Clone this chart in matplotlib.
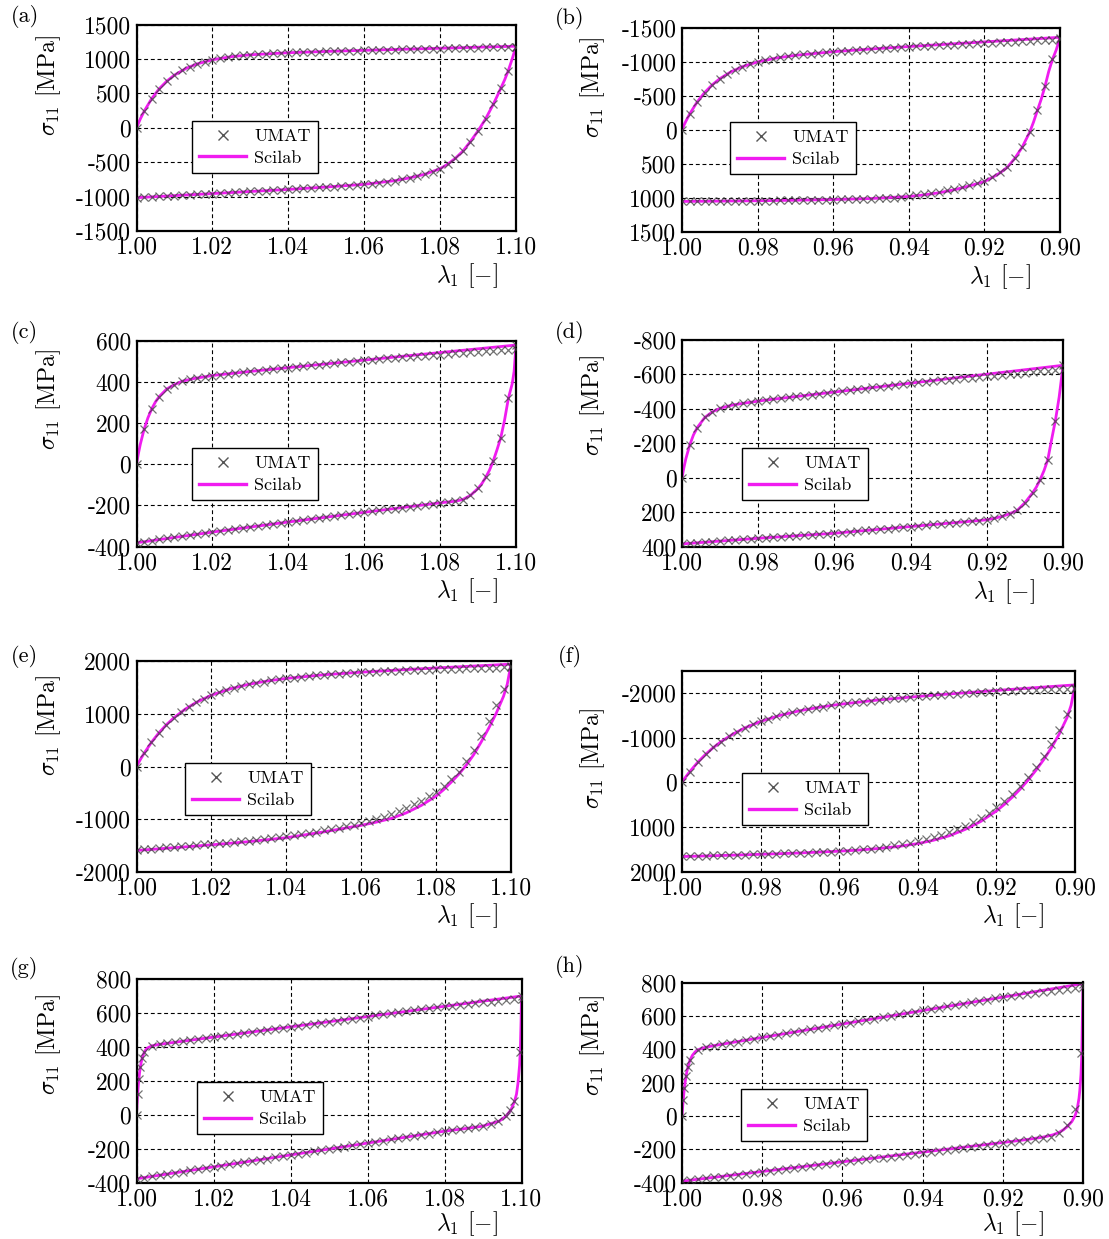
import numpy as np
import matplotlib.pyplot as plt
from matplotlib.lines import Line2D

plt.rcParams['font.family'] = ['cmr10', 'DejaVu Serif']
plt.rcParams['mathtext.fontset'] = 'cm'
plt.rcParams['axes.unicode_minus'] = False

W, H = 1109, 1239
MAG = '#f01cf0'
GREY = '#3c3c3c'

# |lambda_1 - 1| of the UMAT increments (same for every load case)
steps = np.linspace(0.0, 0.1, 51)

# ---------------- (a) tension, 1.00 -> 1.10
a_umat_up = [0, 238, 423, 567, 678, 765, 833, 887, 928, 962, 988, 1009, 1026, 1039, 1050, 1060,
             1068, 1075, 1080, 1085, 1090, 1094, 1098, 1101, 1105, 1109, 1112, 1115, 1118, 1120,
             1123, 1126, 1129, 1132, 1134, 1137, 1140, 1143, 1146, 1148, 1151, 1154, 1157, 1160,
             1162, 1165, 1168, 1171, 1174, 1176, 1179]
a_umat_dn = [-1016, -1010, -1004, -998, -992, -986, -980, -974, -968, -962, -956, -950, -944,
             -938, -932, -926, -920, -914, -908, -902, -896, -889, -882, -875, -868, -861, -854,
             -847, -839, -831, -822, -812, -800, -786, -769, -750, -728, -702, -675, -640, -595,
             -530, -445, -340, -200, -45, 130, 340, 575, 830, 1180]
a_sci_up_lam = [1.0, 1.001, 1.002, 1.004, 1.006, 1.008, 1.010, 1.013, 1.016, 1.020, 1.025, 1.030,
                1.040, 1.050, 1.060, 1.070, 1.080, 1.090, 1.100]
a_sci_up = [0, 127, 238, 423, 567, 678, 765, 861, 928, 988, 1033, 1060, 1090, 1109, 1125, 1140,
            1155, 1170, 1185]
a_sci_dn_lam = [1.100, 1.099, 1.098, 1.097, 1.096, 1.095, 1.094, 1.092, 1.090, 1.088, 1.086, 1.084,
                1.082, 1.080, 1.076, 1.072, 1.068, 1.060, 1.050, 1.040, 1.030, 1.020, 1.010, 1.000]
a_sci_dn = [1185, 1000, 835, 695, 575, 455, 340, 130, -45, -200, -340, -445, -530, -595, -675,
            -728, -769, -822, -861, -896, -926, -956, -986, -1016]

# ---------------- (b) compression, 1.00 -> 0.90
b_umat_up = [0, -225, -404, -544, -657, -747, -819, -877, -924, -962, -994, -1020, -1042, -1060,
             -1077, -1091, -1104, -1116, -1125, -1135, -1144, -1153, -1161, -1168, -1176, -1184,
             -1191, -1199, -1205, -1212, -1220, -1224, -1229, -1234, -1240, -1245, -1250, -1256,
             -1261, -1266, -1272, -1277, -1282, -1288, -1293, -1298, -1304, -1309, -1314, -1320,
             -1325]
b_umat_dn = [1058, 1057, 1056, 1055, 1054, 1053, 1052, 1051, 1050, 1049, 1048, 1046, 1045, 1043,
             1042, 1040, 1038, 1036, 1034, 1032, 1030, 1027, 1024, 1021, 1018, 1015, 1010, 1005,
             1000, 991, 980, 964, 948, 931, 912, 894, 870, 843, 813, 783, 750, 695, 632, 550, 420,
             255, 30, -285, -635, -1035, -1340]
b_sci_up_lam = [1.0, 0.999, 0.998, 0.996, 0.994, 0.992, 0.990, 0.987, 0.984, 0.980, 0.975, 0.970,
                0.960, 0.950, 0.940, 0.930, 0.920, 0.910, 0.900]
b_sci_up = [0, -119, -225, -404, -544, -657, -747, -850, -924, -994, -1052, -1091, -1144, -1184,
            -1220, -1254, -1288, -1322, -1356]
b_sci_dn_lam = [0.900, 0.9005, 0.901, 0.902, 0.903, 0.904, 0.905, 0.906, 0.907, 0.908, 0.910,
                0.912, 0.914, 0.916, 0.918, 0.920, 0.924, 0.928, 0.932, 0.936, 0.940, 0.950, 0.960,
                0.970, 0.980, 0.990, 1.000]
b_sci_dn = [-1356, -1260, -1170, -1030, -850, -629, -440, -278, -110, 37, 260, 428, 560, 643, 708,
            766, 830, 887, 930, 962, 985, 1015, 1030, 1040, 1048, 1053, 1058]

# ---------------- (c)
c_umat_up = [0, 169, 268, 328, 365, 386, 402, 412, 419, 425, 430, 434, 438, 443, 446, 450, 454,
             457, 461, 465, 468, 472, 476, 479, 483, 487, 490, 494, 497, 501, 505, 507, 510, 513,
             515, 518, 521, 523, 526, 529, 531, 534, 537, 539, 542, 545, 547, 550, 553, 555, 558]
c_umat_dn = [-382, -377, -371, -366, -361, -356, -351, -346, -340, -335, -330, -325, -320, -315,
             -310, -306, -301, -296, -291, -286, -281, -276, -272, -267, -262, -258, -253, -248,
             -243, -239, -234, -229, -225, -220, -216, -211, -206, -202, -197, -193, -188, -184,
             -180, -172, -152, -118, -65, 15, 129, 320, 578]
c_sci_up_lam = [1.0, 1.0005, 1.001, 1.002, 1.003, 1.004, 1.005, 1.006, 1.008, 1.010, 1.012, 1.015,
                1.020, 1.030, 1.100]
c_sci_up = [0, 51, 96, 169, 224, 268, 302, 328, 365, 386, 402, 415, 430, 450, 578]
c_sci_dn_lam = [1.100, 1.0995, 1.099, 1.098, 1.097, 1.096, 1.095, 1.094, 1.093, 1.092, 1.091,
                1.090, 1.088, 1.086, 1.084, 1.080, 1.060, 1.040, 1.020, 1.000]
c_sci_dn = [578, 450, 390, 320, 215, 129, 70, 15, -30, -65, -95, -118, -152, -172, -180, -188,
            -234, -281, -330, -382]

# ---------------- (d)
d_umat_up = [0, -188, -291, -350, -383, -403, -416, -425, -432, -439, -445, -451, -456, -461, -467,
             -472, -477, -482, -487, -492, -498, -503, -508, -513, -518, -524, -529, -534, -539,
             -544, -550, -554, -557, -561, -565, -570, -573, -577, -581, -585, -589, -593, -597,
             -601, -605, -609, -613, -617, -621, -624, -628]
d_umat_dn = [385, 382, 378, 375, 372, 369, 365, 362, 359, 355, 352, 349, 346, 343, 340, 338, 335,
             332, 329, 326, 323, 319, 315, 311, 307, 304, 300, 296, 292, 288, 284, 280, 276, 272,
             268, 265, 261, 257, 253, 249, 245, 236, 225, 210, 190, 146, 89, 11, -104, -332, -653]
d_sci_up_lam = [1.0, 0.9995, 0.999, 0.998, 0.997, 0.996, 0.994, 0.992, 0.990, 0.987, 0.984, 0.978,
                0.900]
d_sci_up = [0, -58, -109, -188, -248, -291, -350, -383, -403, -421, -432, -451, -653]
d_sci_dn_lam = [0.900, 0.9005, 0.901, 0.9015, 0.902, 0.903, 0.904, 0.905, 0.906, 0.907, 0.908,
                0.910, 0.912, 0.914, 0.916, 0.918, 0.920, 0.940, 0.960, 0.980, 1.000]
d_sci_dn = [-653, -560, -470, -400, -332, -220, -104, -40, 11, 55, 89, 146, 190, 210, 225, 236,
            245, 284, 323, 352, 385]

# ---------------- (e)
e_umat_up = [0, 247, 459, 640, 793, 924, 1037, 1135, 1217, 1289, 1352, 1405, 1451, 1492, 1528,
             1559, 1587, 1611, 1633, 1652, 1670, 1686, 1701, 1714, 1727, 1739, 1750, 1760, 1770,
             1779, 1785, 1792, 1799, 1805, 1811, 1816, 1821, 1826, 1831, 1836, 1840, 1846, 1851,
             1856, 1860, 1864, 1868, 1871, 1874, 1877, 1880]
e_umat_dn = [-1580, -1569, -1557, -1546, -1534, -1523, -1511, -1500, -1488, -1477, -1465, -1455,
             -1444, -1432, -1419, -1405, -1391, -1376, -1360, -1343, -1325, -1304, -1282, -1259,
             -1235, -1210, -1184, -1157, -1129, -1100, -1070, -1038, -1000, -956, -906, -850, -788,
             -720, -646, -566, -475, -370, -240, -95, 95, 320, 580, 860, 1160, 1460, 1900]
e_sci_up_lam = [1.0, 1.001, 1.002, 1.004, 1.006, 1.008, 1.010, 1.013, 1.016, 1.020, 1.025, 1.030,
                1.035, 1.040, 1.050, 1.060, 1.070, 1.080, 1.090, 1.100]
e_sci_up = [0, 129, 247, 459, 640, 793, 924, 1087, 1217, 1352, 1472, 1559, 1622, 1670, 1739, 1788,
            1830, 1868, 1904, 1940]
e_sci_dn_lam = [1.100, 1.099, 1.098, 1.096, 1.094, 1.092, 1.090, 1.088, 1.086, 1.084, 1.082, 1.080,
                1.076, 1.072, 1.068, 1.064, 1.060, 1.050, 1.040, 1.030, 1.020, 1.010, 1.000]
e_sci_dn = [1940, 1560, 1330, 1000, 720, 460, 220, 20, -150, -300, -440, -560, -740, -880, -985,
            -1055, -1115, -1240, -1350, -1425, -1485, -1540, -1592]

# ---------------- (f)
f_umat_up = [0, -238, -445, -623, -777, -910, -1027, -1127, -1215, -1292, -1360, -1420, -1473,
             -1520, -1561, -1600, -1633, -1664, -1692, -1719, -1742, -1764, -1786, -1805, -1823,
             -1841, -1857, -1874, -1889, -1904, -1919, -1932, -1944, -1956, -1967, -1978, -1989,
             -1999, -2009, -2019, -2030, -2040, -2049, -2057, -2064, -2070, -2076, -2081, -2085,
             -2089, -2093]
f_umat_dn = [1661, 1656, 1651, 1646, 1641, 1636, 1631, 1626, 1621, 1616, 1611, 1606, 1601, 1595,
             1589, 1583, 1577, 1570, 1563, 1555, 1546, 1534, 1520, 1504, 1486, 1466, 1443, 1417,
             1388, 1355, 1318, 1276, 1230, 1178, 1120, 1055, 980, 895, 800, 690, 565, 420, 260, 80,
             -120, -340, -580, -850, -1160, -1520, -2100]
f_sci_up_lam = [1.0, 0.999, 0.998, 0.996, 0.994, 0.992, 0.990, 0.987, 0.984, 0.980, 0.975, 0.970,
                0.965, 0.960, 0.950, 0.940, 0.930, 0.920, 0.910, 0.900]
f_sci_up = [0, -123, -238, -445, -623, -777, -910, -1079, -1215, -1360, -1497, -1600, -1678, -1742,
            -1841, -1919, -1988, -2053, -2116, -2178]
f_sci_dn_lam = [0.900, 0.901, 0.902, 0.904, 0.906, 0.908, 0.910, 0.912, 0.914, 0.916, 0.918, 0.920,
                0.924, 0.928, 0.932, 0.936, 0.940, 0.945, 0.950, 0.955, 0.960, 0.970, 0.980, 0.990,
                1.000]
f_sci_dn = [-2178, -1720, -1450, -1080, -770, -500, -260, -40, 160, 340, 500, 645, 880, 1060, 1200,
            1300, 1375, 1440, 1485, 1520, 1545, 1585, 1615, 1642, 1665]

# ---------------- (g)
g_umat_up = [0, 365, 404, 413, 419, 425, 431, 437, 443, 449, 455, 462, 468, 474, 480, 486, 492,
             498, 504, 510, 516, 522, 528, 534, 540, 546, 552, 558, 564, 570, 576, 583, 589, 595,
             601, 607, 613, 619, 625, 631, 637, 641, 646, 650, 655, 659, 664, 668, 673, 677, 682]
g_umat_dn = [-378, -371, -364, -357, -350, -343, -336, -329, -322, -315, -308, -301, -294, -287,
             -280, -273, -266, -259, -252, -245, -238, -231, -224, -217, -210, -203, -196, -189,
             -182, -175, -168, -161, -154, -147, -140, -133, -126, -119, -112, -105, -98, -93, -87,
             -81, -75, -68, -56, -36, -10, 80, 697]
g_knee_lam = [1.0003, 1.0006, 1.001, 1.0015, 1.0995, 1.097]
g_knee = [121, 206, 279, 335, 370, 25]
g_sci_up_lam = [1.0, 1.0002, 1.0004, 1.0006, 1.0008, 1.001, 1.0013, 1.0016, 1.002, 1.0025, 1.003,
                1.004, 1.006, 1.010, 1.100]
g_sci_up = [0, 86, 152, 206, 246, 279, 316, 343, 365, 384, 393, 404, 413, 425, 697]
g_sci_dn_lam = [1.100, 1.0999, 1.0997, 1.0995, 1.0991, 1.0987, 1.0982, 1.0973, 1.096, 1.0942,
                1.0898, 1.085, 1.080, 1.000]
g_sci_dn = [697, 560, 382, 290, 186, 120, 78, 29, -10, -39, -69, -84, -98, -378]

# ---------------- (h)
h_umat_up = [0, 335, 396, 412, 422, 430, 438, 446, 454, 463, 471, 479, 487, 495, 503, 511, 519,
             527, 535, 543, 551, 559, 567, 575, 583, 592, 600, 608, 616, 624, 632, 640, 648, 656,
             664, 672, 680, 688, 696, 704, 712, 718, 725, 731, 737, 743, 749, 755, 761, 767, 773]
h_umat_dn = [-392, -386, -381, -375, -369, -364, -358, -352, -346, -341, -335, -329, -324, -318,
             -312, -307, -301, -295, -289, -284, -278, -272, -267, -261, -255, -250, -244, -238,
             -232, -227, -221, -215, -210, -204, -198, -193, -187, -181, -175, -170, -164, -158,
             -152, -146, -140, -133, -124, -100, -55, 40, 790]
h_knee_lam = [0.9997, 0.9994, 0.999, 0.9985, 0.9005]
h_knee = [94, 166, 237, 296, 380]
h_sci_up_lam = [1.0, 0.9998, 0.9995, 0.9992, 0.9988, 0.9984, 0.998, 0.9974, 0.9967, 0.996, 0.995,
                0.993, 0.990, 0.900]
h_sci_up = [0, 66, 144, 205, 264, 305, 335, 363, 384, 396, 406, 417, 430, 793]
h_sci_dn_lam = [0.900, 0.9002, 0.9003, 0.9005, 0.9008, 0.901, 0.9015, 0.902, 0.9028, 0.9038,
                0.9049, 0.906, 0.9075, 0.910, 0.9142, 0.920, 1.000]
h_sci_dn = [793, 520, 366, 250, 151, 105, 33, 0, -35, -62, -84, -100, -114, -128, -143, -160, -392]

ticks_t = [1.00, 1.02, 1.04, 1.06, 1.08, 1.10]
ticks_c = [1.00, 0.98, 0.96, 0.94, 0.92, 0.90]

# layout in pixels of the original page: axes box (l, t, r, b), legend top-left,
# x label (right, top), y label (right, centre), panel tag centre
panels = [
    ('(a)', 1, a_umat_up, a_umat_dn, None, None, a_sci_up_lam + a_sci_dn_lam, a_sci_up + a_sci_dn,
     (-1500, 1500), range(-1500, 1501, 500),
     (136.5, 24.5, 516, 231), (192, 121), (498, 261), (63, 85), (25, 17)),
    ('(b)', -1, b_umat_up, b_umat_dn, None, None, b_sci_up_lam + b_sci_dn_lam, b_sci_up + b_sci_dn,
     (1500, -1500), range(-1500, 1501, 500),
     (682, 27.5, 1060, 231.5), (730, 122), (1031, 262), (607, 87), (570, 18)),
    ('(c)', 1, c_umat_up, c_umat_dn, None, None, c_sci_up_lam + c_sci_dn_lam, c_sci_up + c_sci_dn,
     (-400, 600), range(-400, 601, 200),
     (136.5, 340.5, 516, 546.5), (192, 448), (498, 576), (63, 399), (24, 333)),
    ('(d)', -1, d_umat_up, d_umat_dn, None, None, d_sci_up_lam + d_sci_dn_lam, d_sci_up + d_sci_dn,
     (400, -800), range(-800, 401, 200),
     (682, 340, 1063, 546.5), (742, 448), (1035, 577), (607, 405), (570, 333)),
    ('(e)', 1, e_umat_up, e_umat_dn, None, None, e_sci_up_lam + e_sci_dn_lam, e_sci_up + e_sci_dn,
     (-2000, 2000), range(-2000, 2001, 1000),
     (136.5, 661, 511, 872), (185, 763), (498, 901), (63, 725), (24, 657)),
    ('(f)', -1, f_umat_up, f_umat_dn, None, None, f_sci_up_lam + f_sci_dn_lam, f_sci_up + f_sci_dn,
     (2000, -2500), range(-2000, 2001, 1000),
     (682, 670.5, 1075, 871.5), (742, 773), (1044, 901), (607, 758), (570, 657)),
    ('(g)', 1, g_umat_up, g_umat_dn, g_knee_lam, g_knee, g_sci_up_lam + g_sci_dn_lam,
     g_sci_up + g_sci_dn, (-400, 800), range(-400, 801, 200),
     (136.5, 978.5, 521.5, 1182.5), (197, 1082), (498, 1209), (63, 1044), (24, 969)),
    ('(h)', -1, h_umat_up, h_umat_dn, h_knee_lam, h_knee, h_sci_up_lam + h_sci_dn_lam,
     h_sci_up + h_sci_dn, (-400, 800), range(-400, 801, 200),
     (682, 982.5, 1083, 1182.5), (741, 1089), (1044, 1209), (607, 1045), (570, 967)),
]

fig = plt.figure(figsize=(W / 100, H / 100), dpi=100)

for (tag, sign, u_up, u_dn, k_lam, k_sig, s_lam, s_sig, ylim, yticks,
     box, leg_xy, xl_xy, yl_xy, tag_xy) in panels:
    l, t, r, b = box
    ax = fig.add_axes([l / W, 1 - b / H, (r - l) / W, (b - t) / H])
    lam = 1 + sign * steps

    ax.plot(s_lam, s_sig, color=MAG, lw=2.0, zorder=2)
    mk = dict(ls='none', marker='x', ms=6, mew=0.9, color=GREY, alpha=0.72, zorder=3)
    ax.plot(lam, u_up, **mk)
    ax.plot(lam, u_dn, **mk)
    if k_lam is not None:
        ax.plot(k_lam, k_sig, **mk)

    if sign > 0:
        ax.set_xlim(1.0, 1.1)
        ax.set_xticks(ticks_t)
    else:
        ax.set_xlim(1.0, 0.9)
        ax.set_xticks(ticks_c)
    ax.set_xticklabels([f'{v:.2f}' for v in ax.get_xticks()])
    ax.set_ylim(*ylim)
    ax.set_yticks(list(yticks))
    ax.set_yticklabels([str(v) for v in yticks])

    ax.grid(True, color='black', ls=(0, (3.5, 2.5)), lw=0.8)
    ax.tick_params(length=0, pad=4, labelsize=17)
    for sp in ax.spines.values():
        sp.set_linewidth(1.6)

    w, h = r - l, b - t
    ax.set_xlabel(r'$\lambda_1$ $[-]$', fontsize=17, loc='right')
    ax.xaxis.set_label_coords((xl_xy[0] - l) / w, (b - xl_xy[1]) / h)
    ax.set_ylabel(r'$\sigma_{11}$ [MPa]', fontsize=17)
    ax.yaxis.set_label_coords((yl_xy[0] - l) / w, (b - yl_xy[1]) / h)

    handles = [Line2D([], [], ls='none', marker='x', ms=7, mew=1.0, color='#555555'),
               Line2D([], [], color=MAG, lw=2.4)]
    leg = ax.legend(handles, ['UMAT', 'Scilab'], loc='upper left',
                    bbox_to_anchor=((leg_xy[0] - l) / w, (b - leg_xy[1]) / h),
                    borderaxespad=0, fontsize=13, fancybox=False, framealpha=1,
                    edgecolor='black', handlelength=2.6, handletextpad=0.45,
                    labelspacing=0.35, borderpad=0.4)
    leg.get_frame().set_linewidth(1.0)

    fig.text(tag_xy[0] / W, 1 - tag_xy[1] / H, tag, ha='center', va='center', fontsize=16)

fig.savefig('out.png', dpi=100)
